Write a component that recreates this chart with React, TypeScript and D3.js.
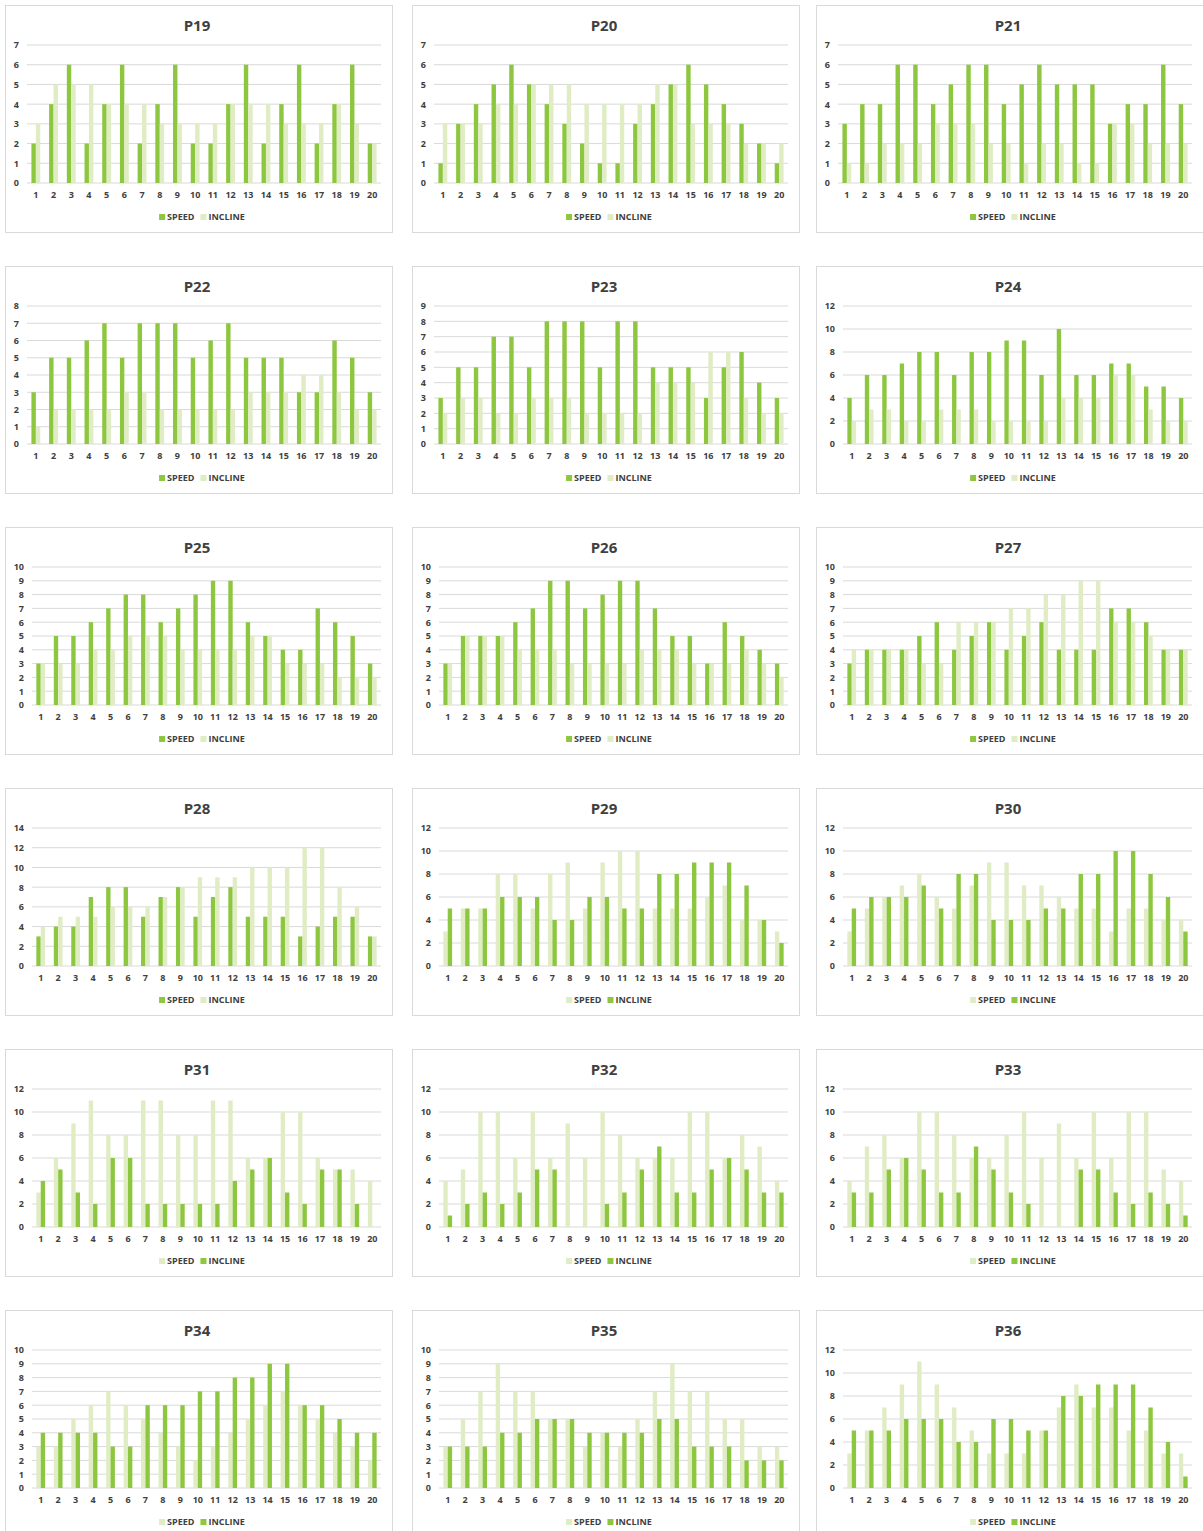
import React, { useRef, useEffect } from 'react';
import * as d3 from 'd3';

// x categories (interval number)
const intervals = ['1','2','3','4','5','6','7','8','9','10','11','12','13','14','15','16','17','18','19','20'];

const titles = ['P19','P20','P21','P22','P23','P24','P25','P26','P27','P28','P29','P30','P31','P32','P33','P34','P35','P36'];
const yMaxes = [7, 7, 7, 8, 9, 12, 10, 10, 10, 14, 12, 12, 12, 12, 12, 10, 10, 12];
const ySteps = [1, 1, 1, 1, 1, 2, 1, 1, 1, 2, 2, 2, 2, 2, 2, 1, 1, 2];
// true -> speed is the dark bar, false -> speed is the light bar
const speedDark = [true,true,true,true,true,true,true,true,true,true,false,false,false,false,false,false,false,false];

const p19Speed = [2,4,6,2,4,6,2,4,6,2,2,4,6,2,4,6,2,4,6,2];
const p19Incline = [3,5,5,5,4,4,4,3,3,3,3,4,4,4,3,3,3,4,3,2];
const p20Speed = [1,3,4,5,6,5,4,3,2,1,1,3,4,5,6,5,4,3,2,1];
const p20Incline = [3,3,3,4,4,5,5,5,4,4,4,4,5,5,3,3,3,2,2,2];
const p21Speed = [3,4,4,6,6,4,5,6,6,4,5,6,5,5,5,3,4,4,6,4];
const p21Incline = [1,1,2,2,2,3,3,3,2,2,1,2,2,1,1,3,3,2,2,2];
const p22Speed = [3,5,5,6,7,5,7,7,7,5,6,7,5,5,5,3,3,6,5,3];
const p22Incline = [1,2,2,2,2,3,3,2,2,2,2,2,3,3,3,4,4,3,2,2];
const p23Speed = [3,5,5,7,7,5,8,8,8,5,8,8,5,5,5,3,5,6,4,3];
const p23Incline = [2,3,3,2,2,3,3,3,2,2,2,2,4,4,4,6,6,3,2,2];
const p24Speed = [4,6,6,7,8,8,6,8,8,9,9,6,10,6,6,7,7,5,5,4];
const p24Incline = [2,3,3,2,2,3,3,3,2,2,2,2,4,4,4,6,6,3,2,2];
const p25Speed = [3,5,5,6,7,8,8,6,7,8,9,9,6,5,4,4,7,6,5,3];
const p25Incline = [3,3,3,4,4,5,5,5,4,4,4,4,5,5,3,3,3,2,2,2];
const p26Speed = [3,5,5,5,6,7,9,9,7,8,9,9,7,5,5,3,6,5,4,3];
const p26Incline = [3,5,5,5,4,4,4,3,3,3,3,4,4,4,3,3,3,4,3,2];
const p27Speed = [3,4,4,4,5,6,4,5,6,4,5,6,4,4,4,7,7,6,4,4];
const p27Incline = [4,4,4,4,3,3,6,6,6,7,7,8,8,9,9,6,6,5,4,4];
const p28Speed = [3,4,4,7,8,8,5,7,8,5,7,8,5,5,5,3,4,5,5,3];
const p28Incline = [4,5,5,5,6,6,6,7,8,9,9,9,10,10,10,12,12,8,6,3];
const p29Speed = [3,5,5,8,8,5,8,9,5,9,10,10,5,5,5,6,7,4,4,3];
const p29Incline = [5,5,5,6,6,6,4,4,6,6,5,5,8,8,9,9,9,7,4,2];
const p30Speed = [3,5,6,7,8,6,5,7,9,9,7,7,6,5,5,3,5,5,4,4];
const p30Incline = [5,6,6,6,7,5,8,8,4,4,4,5,5,8,8,10,10,8,6,3];
const p31Speed = [3,6,9,11,8,8,11,11,8,8,11,11,6,6,10,10,6,5,5,4];
const p31Incline = [4,5,3,2,6,6,2,2,2,2,2,4,5,6,3,2,5,5,2,0];
const p32Speed = [4,5,10,10,6,10,6,9,6,10,8,6,6,6,10,10,6,8,7,4];
const p32Incline = [1,2,3,2,3,5,5,0,0,2,3,5,7,3,3,5,6,5,3,3];
const p33Speed = [4,7,8,6,10,10,8,6,6,8,10,6,9,6,10,6,10,10,5,4];
const p33Incline = [3,3,5,6,5,3,3,7,5,3,2,0,0,5,5,3,2,3,2,1];
const p34Speed = [3,3,5,6,7,6,5,4,3,2,3,4,5,6,7,6,5,4,3,2];
const p34Incline = [4,4,4,4,3,3,6,6,6,7,7,8,8,9,9,6,6,5,4,4];
const p35Speed = [3,5,7,9,7,7,5,5,3,4,3,5,7,9,7,7,5,5,3,3];
const p35Incline = [3,3,3,4,4,5,5,5,4,4,4,4,5,5,3,3,3,2,2,2];
const p36Speed = [3,5,7,9,11,9,7,5,3,3,3,5,7,9,7,7,5,5,3,3];
const p36Incline = [5,5,5,6,6,6,4,4,6,6,5,5,8,8,9,9,9,7,4,1];

const speeds = [p19Speed,p20Speed,p21Speed,p22Speed,p23Speed,p24Speed,p25Speed,p26Speed,p27Speed,
  p28Speed,p29Speed,p30Speed,p31Speed,p32Speed,p33Speed,p34Speed,p35Speed,p36Speed];
const inclines = [p19Incline,p20Incline,p21Incline,p22Incline,p23Incline,p24Incline,p25Incline,p26Incline,p27Incline,
  p28Incline,p29Incline,p30Incline,p31Incline,p32Incline,p33Incline,p34Incline,p35Incline,p36Incline];

const DARK = '#8dc63f';
const LIGHT = '#dfecc4';
const GRID = '#d9d9d9';
const TEXT = '#404040';
const FONT = "'Open Sans', sans-serif";

export default function App() {
  const svgRef = useRef<SVGSVGElement>(null);

  useEffect(() => {
    if (!svgRef.current) return;
    const svg = d3.select(svgRef.current);
    svg.selectAll('*').remove();

    const colX = [5, 412, 816];
    const rowY = [5, 266, 527, 788, 1049, 1310];
    const panelW = 388;
    const panelH = 228;

    titles.forEach((title, i) => {
      const g = svg.append('g')
        .attr('transform', `translate(${colX[i % 3]}, ${rowY[Math.floor(i / 3)]})`);

      g.append('rect')
        .attr('x', 0.5).attr('y', 0.5)
        .attr('width', panelW - 1).attr('height', panelH - 1)
        .attr('fill', '#ffffff')
        .attr('stroke', GRID);

      g.append('text')
        .attr('x', panelW / 2 - 2)
        .attr('y', 26)
        .attr('text-anchor', 'middle')
        .attr('font-family', FONT)
        .attr('font-size', 15)
        .attr('font-weight', 700)
        .attr('fill', TEXT)
        .text(title);

      const yMax = yMaxes[i];
      const left = yMax >= 10 ? 27 : 22;
      const right = 376;
      const top = 40;
      const bottom = 178;

      //scales
      const xScale = d3.scaleBand().domain(intervals).range([left, right]).paddingInner(0.5).paddingOuter(0.25);
      const sub = d3.scaleBand().domain(['speed', 'incline']).range([0, xScale.bandwidth()]);
      const yScale = d3.scaleLinear().domain([0, yMax]).range([bottom, top]);
      const ticks = d3.range(0, yMax + 0.001, ySteps[i]);

      //grid lines
      g.append('g').selectAll('line')
        .data(ticks)
        .join('line')
        .attr('x1', left)
        .attr('x2', right)
        .attr('y1', d => yScale(d))
        .attr('y2', d => yScale(d))
        .attr('stroke', GRID)
        .attr('stroke-width', 1);

      //axes
      const yAxis = d3.axisLeft(yScale).tickValues(ticks).tickFormat(d3.format('d')).tickSize(0).tickPadding(8);
      const yG = g.append('g').attr('transform', `translate(${left}, 0)`).call(yAxis);
      yG.select('.domain').remove();
      yG.selectAll('text')
        .attr('font-family', FONT).attr('font-size', 9).attr('font-weight', 700).attr('fill', TEXT);

      const xAxis = d3.axisBottom(xScale).tickSize(0).tickPadding(9);
      const xG = g.append('g').attr('transform', `translate(0, ${bottom})`).call(xAxis);
      xG.select('.domain').remove();
      xG.selectAll('text')
        .attr('font-family', FONT).attr('font-size', 9).attr('font-weight', 700).attr('fill', TEXT);

      const speedColor = speedDark[i] ? DARK : LIGHT;
      const inclineColor = speedDark[i] ? LIGHT : DARK;

      //bars
      const rows = intervals.map((k, j) => ({ k, speed: speeds[i][j], incline: inclines[i][j] }));
      const barG = g.append('g');
      barG.selectAll('rect.speed')
        .data(rows)
        .join('rect')
        .attr('class', 'speed')
        .attr('x', d => (xScale(d.k) as number) + (sub('speed') as number))
        .attr('width', sub.bandwidth())
        .attr('y', d => yScale(d.speed))
        .attr('height', d => bottom - yScale(d.speed))
        .attr('fill', speedColor);
      barG.selectAll('rect.incline')
        .data(rows)
        .join('rect')
        .attr('class', 'incline')
        .attr('x', d => (xScale(d.k) as number) + (sub('incline') as number))
        .attr('width', sub.bandwidth())
        .attr('y', d => yScale(d.incline))
        .attr('height', d => bottom - yScale(d.incline))
        .attr('fill', inclineColor);

      //legend
      const legend = g.append('g');
      let cursor = 0;
      [{ label: 'SPEED', color: speedColor }, { label: 'INCLINE', color: inclineColor }].forEach((item, n) => {
        if (n > 0) cursor += 6;
        legend.append('rect')
          .attr('x', cursor).attr('y', -3)
          .attr('width', 6).attr('height', 6)
          .attr('fill', item.color);
        cursor += 8;
        const t = legend.append('text')
          .attr('x', cursor).attr('y', 3.3)
          .attr('font-family', FONT).attr('font-size', 9).attr('font-weight', 700)
          .attr('fill', TEXT)
          .text(item.label);
        cursor += (t.node() as SVGTextElement).getComputedTextLength();
      });
      legend.attr('transform', `translate(${panelW / 2 + 3 - cursor / 2}, 212)`);
    });
  }, []);

  return (
    <div>
      <style>{'body{margin:0;background:#fff}'}</style>
      <svg ref={svgRef} width={1203} height={1531} style={{ display: 'block' }} />
    </div>
  );
}
